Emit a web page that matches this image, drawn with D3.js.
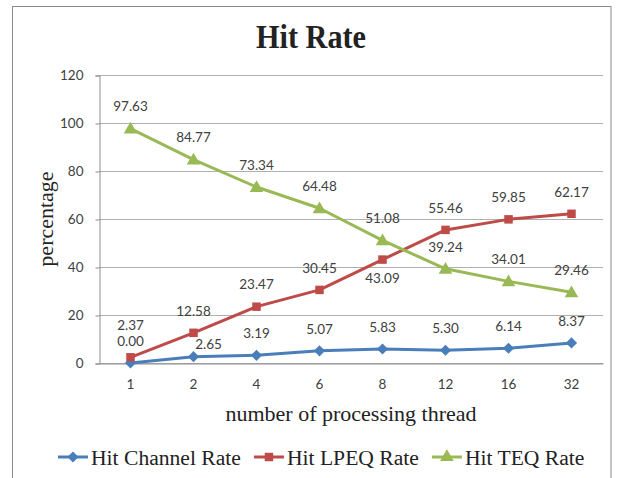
<!DOCTYPE html>
<html>
<head>
<meta charset="UTF-8">
<title>Hit Rate</title>
<script src="https://d3js.org/d3.v7.min.js"></script>
<style>
  body { margin: 0; background: #fff; }
</style>
</head>
<body>
<script>
  const threads = ["1", "2", "4", "6", "8", "12", "16", "32"];
  const channelRate = [0.00, 2.65, 3.19, 5.07, 5.83, 5.30, 6.14, 8.37];
  const lpeqRate = [2.37, 12.58, 23.47, 30.45, 43.09, 55.46, 59.85, 62.17];
  const teqRate = [97.63, 84.77, 73.34, 64.48, 51.08, 39.24, 34.01, 29.46];
  const yTicks = [0, 20, 40, 60, 80, 100, 120];

  const series = [
    { name: "Hit Channel Rate", values: channelRate, color: "#4a7ebb", symbol: "diamond" },
    { name: "Hit LPEQ Rate", values: lpeqRate, color: "#be4b48", symbol: "square" },
    { name: "Hit TEQ Rate", values: teqRate, color: "#98b954", symbol: "triangle" }
  ];

  // label nudges where Excel moved a label off its default "above" spot
  const nudge = { "0-1": [15, 10], "1-0": [0, -10], "1-4": [0, 41] };

  const width = 621, height = 478;
  const svg = d3.select("body").append("svg")
    .attr("width", width).attr("height", height);

  svg.append("rect")
    .attr("x", 12.5).attr("y", 6.5).attr("width", 598.5).attr("height", 490)
    .attr("fill", "#fff").attr("stroke", "#8a8a8a");

  const x = d3.scaleBand().domain(threads).range([99, 603]);
  const y = d3.scaleLinear().domain([0, 120]).range([363, 75]);
  const cx = d => x(d) + x.bandwidth() / 2;

  // gridlines
  svg.append("g").selectAll("line").data(yTicks).join("line")
    .attr("x1", 99).attr("x2", 603)
    .attr("y1", d => Math.round(y(d)) + 0.5).attr("y2", d => Math.round(y(d)) + 0.5)
    .attr("stroke", "#b0b0b0").attr("stroke-width", 1.2);

  const yAxis = svg.append("g").attr("transform", "translate(99.5,0.5)")
    .call(d3.axisLeft(y).tickValues(yTicks).tickSize(4).tickPadding(12));
  yAxis.select(".domain").attr("stroke", "#8c8c8c");
  yAxis.selectAll(".tick line").attr("stroke", "#8c8c8c");
  yAxis.selectAll("text").attr("font-family", "Lato").attr("font-size", 13.5).attr("fill", "#404040");

  const xAxis = svg.append("g").attr("transform", "translate(0,363.5)")
    .call(d3.axisBottom(x).tickSize(0).tickPadding(16));
  xAxis.select(".domain").attr("stroke", "#8c8c8c");
  xAxis.selectAll("text").attr("font-family", "Lato").attr("font-size", 13.5).attr("fill", "#404040");

  const symbolType = { diamond: d3.symbolSquare, square: d3.symbolSquare, triangle: d3.symbolTriangle };
  const symbolSize = { diamond: 62, square: 72, triangle: 80 };
  const symbolRot = { diamond: 45, square: 0, triangle: 0 };

  const line = d3.line().x((d, i) => cx(threads[i])).y(d => y(d));

  series.forEach(s => {
    svg.append("path").datum(s.values)
      .attr("d", line).attr("fill", "none")
      .attr("stroke", s.color).attr("stroke-width", 3).attr("stroke-linejoin", "round");
  });

  series.forEach(s => {
    const sym = d3.symbol().type(symbolType[s.symbol]).size(symbolSize[s.symbol]);
    svg.append("g").selectAll("path").data(s.values).join("path")
      .attr("d", sym)
      .attr("transform", (d, i) => `translate(${cx(threads[i])},${y(d) + (s.symbol === "triangle" ? 1 : 0)}) rotate(${symbolRot[s.symbol]})`)
      .attr("fill", s.color);
  });

  series.forEach((s, si) => {
    svg.append("g").selectAll("text").data(s.values).join("text")
      .attr("x", (d, i) => cx(threads[i]) + (nudge[si + "-" + i] || [0, 0])[0])
      .attr("y", (d, i) => y(d) - 22 + (nudge[si + "-" + i] || [0, 0])[1])
      .attr("dy", "0.35em")
      .attr("text-anchor", "middle")
      .attr("font-family", "Lato").attr("font-size", 13.5).attr("fill", "#404040")
      .text(d => d.toFixed(2));
  });

  svg.append("text")
    .attr("x", 311).attr("y", 48)
    .attr("text-anchor", "middle")
    .attr("font-family", "Liberation Serif").attr("font-weight", "bold")
    .attr("font-size", 33).attr("textLength", 110).attr("lengthAdjust", "spacingAndGlyphs")
    .attr("fill", "#222")
    .text("Hit Rate");

  svg.append("text")
    .attr("transform", "translate(53,219) rotate(-90)")
    .attr("text-anchor", "middle")
    .attr("font-family", "Liberation Serif").attr("font-size", 22).attr("fill", "#222")
    .text("percentage");

  svg.append("text")
    .attr("x", 351).attr("y", 421)
    .attr("text-anchor", "middle")
    .attr("font-family", "Liberation Serif").attr("font-size", 22).attr("fill", "#222")
    .text("number of processing thread");

  // legend
  let lx = 58;
  const ly = 457;
  series.forEach(s => {
    const g = svg.append("g");
    g.append("line").attr("x1", lx).attr("x2", lx + 30).attr("y1", ly).attr("y2", ly)
      .attr("stroke", s.color).attr("stroke-width", 3);
    g.append("path")
      .attr("d", d3.symbol().type(symbolType[s.symbol]).size(symbolSize[s.symbol]))
      .attr("transform", `translate(${lx + 15},${ly}) rotate(${symbolRot[s.symbol]})`)
      .attr("fill", s.color);
    const t = g.append("text").attr("x", lx + 33).attr("y", ly).attr("dy", "0.35em")
      .attr("font-family", "Liberation Serif").attr("font-size", 21.6).attr("fill", "#222")
      .text(s.name);
    lx += 33 + t.node().getComputedTextLength() + 13;
  });
</script>
</body>
</html>
